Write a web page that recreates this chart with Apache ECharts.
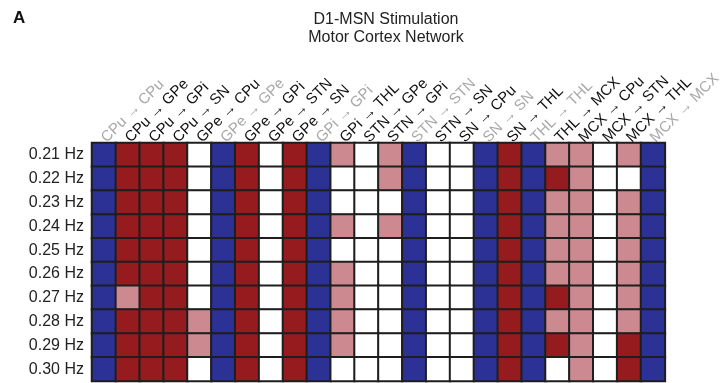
<!DOCTYPE html>
<html>
<head>
    <meta charset="utf-8">
    <title>D1-MSN Stimulation heatmap</title>
    <script src="https://cdn.jsdelivr.net/npm/echarts@6/dist/echarts.min.js"></script>
</head>
<body style="margin:0">
<div id="main" style="width: 724px;height:383px;"></div>
<script type="text/javascript">

    /* connections (columns) and frequencies (rows) */
    var connections = [
        'CPu → CPu', 'CPu → GPe', 'CPu → GPi', 'CPu → SN', 'GPe → CPu', 'GPe → GPe',
        'GPe → GPi', 'GPe → STN', 'GPe → SN', 'GPi → GPi', 'GPi → THL', 'STN → GPe',
        'STN → GPi', 'STN → STN', 'STN → SN', 'SN → CPu', 'SN → SN', 'SN → THL',
        'THL → THL', 'THL → MCX', 'MCX → CPu', 'MCX → STN', 'MCX → THL', 'MCX → MCX'
    ];
    // self connections are drawn in grey
    var selfLinks = ['CPu → CPu', 'GPe → GPe', 'GPi → GPi', 'STN → STN', 'SN → SN', 'THL → THL', 'MCX → MCX'];
    var frequencies = ['0.21 Hz', '0.22 Hz', '0.23 Hz', '0.24 Hz', '0.25 Hz',
                       '0.26 Hz', '0.27 Hz', '0.28 Hz', '0.29 Hz', '0.30 Hz'];

    /* cell state per row: 0 = none, 1 = weak (pink), 2 = strong (red), 3 = self (blue) */
    var hz021 = [3, 2, 2, 2, 0, 3, 2, 0, 2, 3, 1, 0, 1, 3, 0, 0, 3, 2, 3, 1, 1, 0, 1, 3];
    var hz022 = [3, 2, 2, 2, 0, 3, 2, 0, 2, 3, 0, 0, 1, 3, 0, 0, 3, 2, 3, 2, 1, 0, 0, 3];
    var hz023 = [3, 2, 2, 2, 0, 3, 2, 0, 2, 3, 0, 0, 0, 3, 0, 0, 3, 2, 3, 1, 1, 0, 1, 3];
    var hz024 = [3, 2, 2, 2, 0, 3, 2, 0, 2, 3, 1, 0, 1, 3, 0, 0, 3, 2, 3, 1, 1, 0, 1, 3];
    var hz025 = [3, 2, 2, 2, 0, 3, 2, 0, 2, 3, 0, 0, 0, 3, 0, 0, 3, 2, 3, 1, 1, 0, 1, 3];
    var hz026 = [3, 2, 2, 2, 0, 3, 2, 0, 2, 3, 1, 0, 0, 3, 0, 0, 3, 2, 3, 1, 1, 0, 1, 3];
    var hz027 = [3, 1, 2, 2, 0, 3, 2, 0, 2, 3, 1, 0, 0, 3, 0, 0, 3, 2, 3, 2, 1, 0, 1, 3];
    var hz028 = [3, 2, 2, 2, 1, 3, 2, 0, 2, 3, 1, 0, 0, 3, 0, 0, 3, 2, 3, 1, 1, 0, 1, 3];
    var hz029 = [3, 2, 2, 2, 1, 3, 2, 0, 2, 3, 1, 0, 0, 3, 0, 0, 3, 2, 3, 2, 1, 0, 2, 3];
    var hz030 = [3, 2, 2, 2, 0, 3, 2, 0, 2, 3, 0, 0, 0, 3, 0, 0, 3, 2, 3, 0, 1, 0, 2, 3];

    var rows = [hz021, hz022, hz023, hz024, hz025, hz026, hz027, hz028, hz029, hz030];
    var cells = [];
    rows.forEach(function (row, r) {
        row.forEach(function (v, c) {
            cells.push([c, r, v]);
        });
    });

    var xData = connections.map(function (name) {
        return {
            value: name,
            textStyle: {color: selfLinks.indexOf(name) >= 0 ? '#a8a8a8' : '#111'}
        };
    });

    var myChart = echarts.init(document.getElementById('main'));

    myChart.setOption({
        animation: false,
        textStyle: {fontFamily: 'Liberation Sans, Arial, sans-serif'},
        title: [
            {
                text: 'D1-MSN Stimulation\nMotor Cortex Network',
                left: 381, top: 6, textAlign: 'center',
                textStyle: {fontSize: 16, fontWeight: 'normal', color: '#222', lineHeight: 18}
            },
            {
                text: 'A', left: 8, top: 5,
                textStyle: {fontSize: 17, fontWeight: 'bold', color: '#111'}
            }
        ],
        grid: {left: 92, right: 59, top: 143, bottom: 2},
        xAxis: {
            type: 'category',
            position: 'top',
            data: xData,
            axisLine: {show: false},
            axisTick: {show: false},
            splitArea: {show: false},
            axisLabel: {rotate: -45, fontSize: 15, margin: 3, interval: 0}
        },
        yAxis: {
            type: 'category',
            inverse: true,
            data: frequencies,
            axisLine: {show: false},
            axisTick: {show: false},
            axisLabel: {fontSize: 16, color: '#222', margin: 8}
        },
        visualMap: {
            show: false,
            type: 'piecewise',
            dimension: 2,
            pieces: [
                {value: 0, color: '#ffffff'},
                {value: 1, color: '#cc8a90'},
                {value: 2, color: '#961b1f'},
                {value: 3, color: '#2b3195'}
            ]
        },
        series: [{
            type: 'heatmap',
            data: cells,
            itemStyle: {borderColor: '#1e1e1e', borderWidth: 2},
            emphasis: {disabled: true}
        }]
    });

</script>
</body>
</html>
